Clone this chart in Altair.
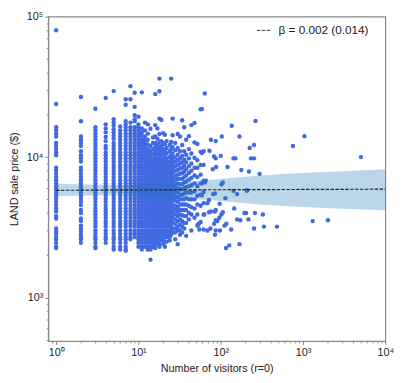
import altair as alt
import pandas as pd

# ---- scatter data: LAND sale price (thousand $) per visitor count ----
col_1 = [80, 23.9, 16.3, 15.5, 14.7, 14.0, 12.6, 12.0, 11.4, 10.8, 10.3, 8.4, 8.0, 7.6, 7.2, 6.85, 6.5, 6.2, 5.9, 5.6, 5.3, 5.05, 4.8, 4.55, 4.3, 4.1, 3.8, 3.65, 3.1, 2.95, 2.85, 2.7, 2.6, 2.45, 2.3, 2.25]
col_2 = [26.8, 18.0, 14.0, 13.3, 12.6, 12.0, 11.0, 10.3, 9.8, 9.3, 8.4, 8.0, 7.6, 7.2, 6.85, 6.5, 6.2, 5.9, 5.6, 5.3, 5.05, 4.8, 4.55, 4.2, 4.0, 3.65, 3.5, 3.25, 3.1, 2.95, 2.8, 2.7, 2.6, 2.45]
col_3 = [22.1, 16.3, 15.5, 14.7, 14.0, 13.3, 12.6, 12.0, 11.4, 10.8, 10.3, 9.8, 9.3, 8.8, 8.4, 8.0, 7.6, 7.2, 6.85, 6.5, 6.2, 5.9, 5.6, 5.3, 5.05, 4.8, 4.55, 4.3, 4.1, 3.9, 3.7, 3.5, 3.35, 3.2, 3.0, 2.85, 2.7, 2.6, 2.45, 2.3, 2.25]
col_4 = [26.4, 17.1, 16.0, 15.0, 13.9, 13.0, 12.0, 11.5, 10.8, 10.3, 9.8, 9.3, 8.8, 8.4, 8.0, 7.6, 7.2, 6.85, 6.5, 6.2, 5.9, 5.6, 5.3, 5.05, 4.8, 4.55, 4.3, 4.1, 3.9, 3.7, 3.5, 3.35, 3.2, 3.0, 2.85, 2.7, 2.6, 2.45]
col_5 = [29.5, 18.6, 17.6, 16.8, 15.8, 15.0, 14.2, 13.5, 12.6, 12.0, 11.4, 10.8, 10.3, 9.8, 9.3, 8.8, 8.4, 8.0, 7.6, 7.2, 6.85, 6.5, 6.2, 5.9, 5.6, 5.3, 5.05, 4.8, 4.55, 4.3, 4.1, 3.9, 3.7, 3.5, 3.35, 3.2, 3.0, 2.85, 2.7, 2.6, 2.45, 2.3, 2.2]
col_6 = [16.5, 15.5, 14.7, 14.0, 13.3, 12.6, 12.0, 11.4, 10.8, 10.3, 9.8, 9.3, 8.8, 8.4, 8.0, 7.6, 7.2, 6.85, 6.5, 6.2, 5.9, 5.6, 5.3, 5.05, 4.8, 4.55, 4.3, 4.1, 3.9, 3.7, 3.5, 3.35, 3.2, 3.0, 2.85, 2.7, 2.6, 2.45, 2.3, 2.2]
col_7 = [25.8, 23.6, 18.0, 17.1, 16.3, 15.5, 14.7, 14.0, 13.3, 12.6, 12.0, 11.4, 10.8, 10.3, 9.8, 9.3, 8.8, 8.4, 8.0, 7.6, 7.2, 6.85, 6.5, 6.2, 5.9, 5.6, 5.3, 5.05, 4.8, 4.55, 4.3, 4.1, 3.9, 3.7, 3.5, 3.35, 3.2, 3.0, 2.85, 2.7, 2.6, 2.45, 2.3, 2.2, 2.15]
col_8 = [32.0, 25.8, 17.6, 16.3, 15.5, 14.7, 14.0, 13.3, 12.6, 12.0, 11.4, 10.8, 10.3, 9.8, 9.3, 8.8, 8.4, 8.0, 7.6, 7.2, 6.85, 6.5, 6.2, 5.9, 5.6, 5.3, 5.05, 4.8, 4.55, 4.3, 4.1, 3.9, 3.7, 3.5, 3.35, 3.2, 3.0, 2.85, 2.7, 2.6]
col_9 = [28.7, 22.8, 19.9, 18.6, 18.0, 16.3, 15.5, 14.7, 14.0, 13.3, 12.6, 12.0, 11.4, 10.8, 10.3, 9.8, 9.3, 8.8, 8.4, 8.0, 7.6, 7.2, 6.85, 6.5, 6.2, 5.9, 5.6, 5.3, 5.05, 4.8, 4.55, 4.3, 4.1, 3.9, 3.7, 3.5, 3.35, 3.2, 3.0, 2.85, 2.7]
col_10 = [19.4, 17.1, 16.3, 15.5, 14.7, 14.0, 13.3, 12.6, 12.0, 11.4, 10.8, 10.3, 9.8, 9.3, 8.8, 8.4, 8.0, 7.6, 7.2, 6.85, 6.5, 6.2, 5.9, 5.6, 5.3, 5.05, 4.8, 4.55, 4.3, 4.1, 3.9, 3.7, 3.5, 3.35, 3.2, 3.0, 2.85, 2.7, 2.6, 2.45, 2.3]
col_11 = [28.9, 16.0, 15.0, 14.2, 13.3, 12.6, 12.0, 11.4, 10.8, 10.3, 9.8, 9.3, 8.8, 8.4, 8.0, 7.6, 7.2, 6.85, 6.5, 6.2, 5.9, 5.6, 5.3, 5.05, 4.8, 4.55, 4.3, 4.1, 3.9, 3.7, 3.5, 3.35, 3.2, 3.0, 2.85, 2.7, 2.6, 2.45, 2.3, 2.2]
col_12 = [17.6, 15.5, 14.0, 13.3, 12.6, 11.8, 11.0, 10.3, 9.8, 9.3, 8.8, 8.4, 8.0, 7.6, 7.2, 6.85, 6.5, 6.2, 5.9, 5.6, 5.3, 5.05, 4.8, 4.55, 4.3, 4.1, 3.9, 3.7, 3.5, 3.35, 3.2, 3.0, 2.85, 2.7, 2.6, 2.45, 2.3]
col_13 = [17.1, 14.7, 13.3, 12.3, 11.4, 10.8, 10.3, 9.8, 9.3, 8.8, 8.4, 8.0, 7.6, 7.2, 6.85, 6.5, 6.2, 5.9, 5.6, 5.3, 5.05, 4.8, 4.55, 4.3, 4.1, 3.9, 3.7, 3.5, 3.35, 3.2, 3.0, 2.85, 2.7, 2.6, 2.45, 2.3, 2.2]
col_14 = [15.9, 12.0, 11.0, 10.3, 9.8, 9.3, 8.8, 8.4, 8.0, 7.6, 7.2, 6.85, 6.5, 6.2, 5.9, 5.6, 5.3, 5.05, 4.8, 4.55, 4.3, 4.1, 3.9, 3.7, 3.5, 3.35, 3.2, 3.0, 2.85, 2.7, 2.6, 2.45, 2.3, 2.2, 1.86]
col_15 = [13.8, 12.6, 11.4, 10.5, 9.8, 9.3, 8.8, 8.4, 8.0, 7.6, 7.2, 6.85, 6.5, 6.2, 5.9, 5.6, 5.3, 5.05, 4.8, 4.55, 4.3, 4.1, 3.9, 3.7, 3.5, 3.35, 3.2, 3.0, 2.85, 2.7, 2.6, 2.45, 2.3]
col_16 = [28.1, 16.9, 14.0, 12.6, 11.8, 11.0, 10.3, 9.8, 9.3, 8.8, 8.4, 8.0, 7.6, 7.2, 6.85, 6.5, 6.2, 5.9, 5.6, 5.3, 5.05, 4.8, 4.55, 4.3, 4.1, 3.9, 3.7, 3.5, 3.35, 3.2, 3.0, 2.85, 2.7, 2.55, 2.4, 2.25]
col_17 = [16.0, 13.5, 12.3, 11.4, 10.6, 9.8, 9.3, 8.8, 8.4, 8.0, 7.6, 7.2, 6.85, 6.5, 6.2, 5.9, 5.6, 5.3, 5.05, 4.8, 4.55, 4.3, 4.1, 3.9, 3.7, 3.5, 3.35, 3.2, 3.0, 2.85, 2.7, 2.55, 2.4]
col_18 = [36.2, 29.4, 18.8, 14.6, 12.8, 11.8, 11.0, 10.3, 9.8, 9.3, 8.8, 8.4, 8.0, 7.6, 7.2, 6.85, 6.5, 6.2, 5.9, 5.6, 5.3, 5.05, 4.8, 4.55, 4.3, 4.1, 3.9, 3.7, 3.5, 3.35, 3.2, 3.0, 2.85, 2.7, 2.55, 2.4, 2.3]
col_19 = [18.4, 13.0, 12.0, 11.2, 10.5, 9.8, 9.3, 8.8, 8.4, 8.0, 7.6, 7.2, 6.85, 6.5, 6.2, 5.9, 5.6, 5.3, 5.05, 4.8, 4.55, 4.3, 4.1, 3.9, 3.7, 3.5, 3.35, 3.2, 3.0, 2.85, 2.7, 2.55]
col_20 = [14.8, 12.6, 11.4, 10.6, 9.8, 9.3, 8.8, 8.4, 8.0, 7.6, 7.2, 6.85, 6.5, 6.2, 5.9, 5.6, 5.3, 5.05, 4.8, 4.55, 4.3, 4.1, 3.9, 3.7, 3.5, 3.35, 3.2, 3.0, 2.85, 2.7, 2.55, 2.4]
col_21 = [14.4, 12.3, 11.0, 10.0, 9.3, 8.8, 8.4, 8.0, 7.6, 7.2, 6.85, 6.5, 6.2, 5.9, 5.6, 5.3, 5.05, 4.8, 4.55, 4.3, 4.1, 3.9, 3.7, 3.5, 3.35, 3.2, 3.0, 2.85, 2.7, 2.5, 2.3]
col_22 = [13.0, 11.6, 10.6, 9.8, 9.3, 8.8, 8.4, 8.0, 7.6, 7.2, 6.85, 6.5, 6.2, 5.9, 5.6, 5.3, 5.05, 4.8, 4.55, 4.3, 4.1, 3.9, 3.7, 3.5, 3.35, 3.2, 3.0, 2.85, 2.7, 2.5]
col_24 = [12.2, 11.0, 10.0, 9.3, 8.8, 8.4, 8.0, 7.6, 7.2, 6.85, 6.5, 6.2, 5.9, 5.6, 5.3, 5.05, 4.8, 4.55, 4.3, 4.1, 3.9, 3.7, 3.5, 3.35, 3.2, 3.0, 2.85, 2.7, 2.55]
col_25 = [36.2, 12.8, 11.4, 10.3, 9.5, 8.8, 8.2, 7.6, 7.2, 6.85, 6.5, 6.2, 5.9, 5.6, 5.3, 5.05, 4.8, 4.55, 4.3, 4.1, 3.9, 3.7, 3.5, 3.2, 3.0, 2.8]
col_26 = [18.8, 14.3, 11.8, 10.6, 9.8, 9.0, 8.4, 7.8, 7.2, 6.7, 6.2, 5.8, 5.4, 5.0, 4.6, 4.3, 4.0, 3.7, 3.4, 3.1, 2.9]
col_28 = [12.6, 11.2, 10.0, 9.3, 8.6, 8.0, 7.4, 6.9, 6.4, 6.0, 5.6, 5.2, 4.9, 4.5, 4.2, 3.9, 3.6, 3.35, 3.1, 2.9, 2.6]
col_30 = [14.6, 11.6, 10.4, 9.5, 8.8, 8.1, 7.5, 7.0, 6.5, 6.0, 5.6, 5.2, 4.8, 4.4, 4.1, 3.8, 3.5, 3.2, 3.0, 2.4]
col_32 = [14.0, 11.0, 9.8, 9.0, 8.3, 7.6, 7.0, 6.4, 5.9, 5.4, 5.0, 4.6, 4.2, 3.9, 3.6, 3.3, 3.0, 2.8]
col_34 = [18.3, 12.2, 10.2, 9.2, 8.4, 7.7, 7.0, 6.4, 5.9, 5.4, 5.0, 4.6, 4.2, 3.85, 3.5, 3.2, 2.9]
col_36 = [16.3, 11.0, 9.6, 8.7, 7.9, 7.2, 6.6, 6.0, 5.5, 5.0, 4.6, 4.2, 3.8, 3.4, 3.1]
col_38 = [13.3, 10.4, 9.2, 8.2, 7.4, 6.7, 6.1, 5.6, 5.1, 4.6, 4.2, 3.8, 3.4, 2.75]
col_41 = [14.1, 11.4, 9.8, 8.6, 7.7, 6.9, 6.2, 5.6, 5.0, 4.5, 4.0, 3.6]
col_44 = [16.9, 10.6, 9.0, 8.0, 7.1, 6.3, 5.6, 5.0, 4.4, 3.9, 3.0]
col_48 = [17.5, 12.7, 9.9, 8.4, 7.4, 6.5, 5.7, 5.0, 4.3, 3.7]
col_52 = [12.4, 9.5, 8.4, 7.2, 6.2, 5.3, 4.6, 3.9, 3.25]
col_57 = [21.9, 10.9, 8.8, 7.5, 6.5, 5.4, 4.5, 3.45]
col_62 = [11.0, 8.8, 6.8, 5.65, 4.7, 3.9, 3.05]

column_visitors = [1, 2, 3, 4, 5, 6, 7, 8, 9, 10, 11, 12, 13, 14, 15, 16, 17, 18, 19, 20,
                   21, 22, 24, 25, 26, 28, 30, 32, 34, 36, 38, 41, 44, 48, 52, 57, 62]
column_prices = [col_1, col_2, col_3, col_4, col_5, col_6, col_7, col_8, col_9, col_10,
                 col_11, col_12, col_13, col_14, col_15, col_16, col_17, col_18, col_19, col_20,
                 col_21, col_22, col_24, col_25, col_26, col_28, col_30, col_32, col_34, col_36,
                 col_38, col_41, col_44, col_48, col_52, col_57, col_62]

# individual sparse points (visitors, thousand $)
sparse_visitors = [53, 54, 55, 59, 59, 59, 59, 63, 64, 64, 66, 69, 69, 72, 72, 73, 75, 76, 76, 80,
                   81, 83, 83, 85, 85, 85, 87, 87, 87, 87, 87, 88, 91, 96, 97, 98, 100, 102, 102, 103,
                   106, 106, 111, 114, 116, 117, 121, 127, 134, 136, 143, 143, 146, 151, 158, 158, 169, 169, 173, 178,
                   194, 203, 208, 208, 217, 220, 225, 233, 254, 254, 254, 261, 265, 297, 325, 335, 483, 754, 1040, 1310,
                   2010, 5050]
sparse_prices = [3.3, 3.35, 3.05, 22.0, 10.7, 6.5, 5.35, 3.9, 28.4, 6.6, 6.8, 4.7, 3.0, 4.95, 4.05, 11.1, 3.1, 13.3, 4.1, 8.2,
                 5.45, 10.1, 3.35, 5.5, 4.1, 2.8, 13.0, 9.8, 3.55, 3.0, 4.2, 8.5, 3.5, 3.7, 4.65, 3.0, 10.2, 6.4, 3.9, 14.0,
                 6.6, 4.05, 3.25, 5.1, 2.25, 3.35, 8.5, 2.35, 3.05, 16.7, 9.8, 5.75, 4.3, 9.8, 5.45, 3.6, 14.0, 2.4, 3.55, 8.1,
                 4.0, 4.0, 5.75, 5.8, 3.6, 7.9, 11.6, 9.8, 12.2, 9.8, 3.1, 4.0, 18.1, 7.6, 3.9, 3.2, 3.2, 12.0, 14.1, 3.5,
                 3.55, 10.0]

# regression fit and confidence band (thousand $)
fit_visitors = [1, 10000]
fit_price = [5.80, 5.91]
band_visitors = [1, 3, 10, 30, 100, 300, 1000, 3000, 10000]
band_low = [5.26, 5.34, 5.34, 5.13, 4.86, 4.59, 4.41, 4.28, 4.18]
band_high = [6.46, 6.36, 6.36, 6.62, 6.99, 7.40, 7.70, 7.94, 8.20]
fit_label = "β = 0.002 (0.014)"

# tick values
x_ticks = [0.9, 1, 2, 3, 4, 5, 6, 7, 8, 9, 10, 20, 30, 40, 50, 60, 70, 80, 90, 100,
           200, 300, 400, 500, 600, 700, 800, 900, 1000, 2000, 3000, 4000, 5000, 6000, 7000, 8000, 9000, 10000]
y_ticks = [500, 600, 700, 800, 900, 1000, 2000, 3000, 4000, 5000, 6000, 7000, 8000, 9000, 10000,
           20000, 30000, 40000, 50000, 60000, 70000, 80000, 90000, 100000]

# ---- build tables ----
rows = []
for v, plist in zip(column_visitors, column_prices):
    for p in plist:
        rows.append({"visitors": v, "price": p * 1000})
for v, p in zip(sparse_visitors, sparse_prices):
    rows.append({"visitors": v, "price": p * 1000})
pts = pd.DataFrame(rows)

band = pd.DataFrame({"visitors": band_visitors,
                     "low": [b * 1000 for b in band_low],
                     "high": [b * 1000 for b in band_high]})
fit = pd.DataFrame({"visitors": fit_visitors,
                    "price": [p * 1000 for p in fit_price],
                    "label": [fit_label] * 2})

FONT = "Liberation Sans"
major_test = "abs(log(datum.value)/LN10 - round(log(datum.value)/LN10)) < 0.001"
sup_expr = ("abs(log(datum.value)/LN10 - round(log(datum.value)/LN10)) < 0.001 ? "
            "'10' + ['⁰','¹','²','³','⁴','⁵'][round(log(datum.value)/LN10)] : ''")

tick_size = {"condition": {"test": major_test, "value": 3.5}, "value": 2}

x_scale = alt.Scale(type="log", domain=[0.8, 10000], nice=False)
y_scale = alt.Scale(type="log", domain=[490, 100000], nice=False)

x_axis = alt.Axis(values=x_ticks, labelExpr=sup_expr, tickSize=tick_size, grid=False,
                  labelOverlap=False, labelFlush=False, labelPadding=2,
                  title="Number of visitors (r=0)", titleY=28, titleBaseline="middle")
y_axis = alt.Axis(values=y_ticks, labelExpr=sup_expr, tickSize=tick_size, grid=False,
                  labelOverlap=False, labelFlush=False, labelPadding=2,
                  title="LAND sale price ($)", titleX=-34, titleBaseline="middle")

points = alt.Chart(pts).mark_circle(size=20, color="#4169e1", opacity=1).encode(
    x=alt.X("visitors:Q", scale=x_scale, axis=x_axis),
    y=alt.Y("price:Q", scale=y_scale, axis=y_axis),
)

band_layer = alt.Chart(band).mark_area(color="#1f77b4", opacity=0.3).encode(
    x=alt.X("visitors:Q", scale=x_scale),
    y=alt.Y("low:Q", scale=y_scale),
    y2="high:Q",
)

line_layer = alt.Chart(fit).mark_line(color="#222222", strokeWidth=1.2).encode(
    x=alt.X("visitors:Q", scale=x_scale),
    y=alt.Y("price:Q", scale=y_scale),
    strokeDash=alt.StrokeDash(
        "label:N",
        scale=alt.Scale(range=[[3.5, 1.5]]),
        legend=alt.Legend(title=None, orient="none", legendX=212, legendY=6, padding=0,
                          symbolType="stroke", symbolSize=200, symbolStrokeColor="#333333",
                          symbolStrokeWidth=1, labelFontSize=12, labelFont=FONT,
                          labelColor="#222222", labelOffset=7),
    ),
)

chart = alt.layer(points, band_layer, line_layer).properties(
    width=344, height=331,
    autosize=alt.AutoSizeParams(type="none"),
    padding={"left": 41, "top": 5, "right": 15, "bottom": 39},
).configure_view(
    stroke="#8a8a8a", strokeWidth=1.2
).configure_axis(
    domainColor="#8a8a8a", domainWidth=1.2, tickColor="#8a8a8a",
    labelFont=FONT, labelFontSize=11, labelColor="#222222",
    titleFont=FONT, titleFontSize=11, titleFontWeight="normal", titleColor="#222222",
)

chart.save("out.html", embed_options={"renderer": "svg", "actions": False})
